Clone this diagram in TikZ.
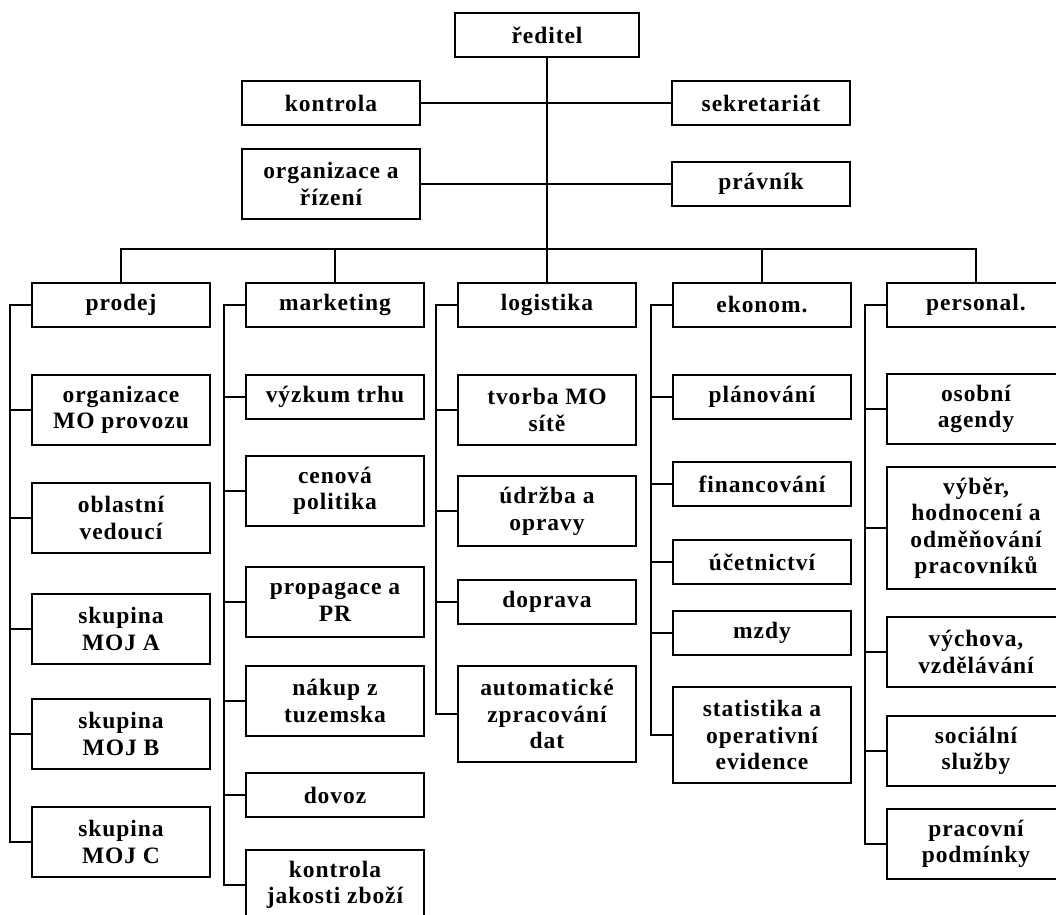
\documentclass[tikz,border=0pt]{standalone}
\usepackage{fontspec}
\setmainfont{Liberation Serif}[LetterSpace=4]
\usepackage{tikz}

\begin{document}
\begin{tikzpicture}[x=1pt,y=-1pt,line width=2pt,
  unit/.style={draw,rectangle,inner sep=0pt,minimum width=178pt,minimum height=44pt,
    align=center,font=\bfseries\fontsize{23.5}{26.5}\selectfont}]
\useasboundingbox (0,0) rectangle (1056,914);
% vedeni
\node[unit,minimum width=184pt] (red) at (547,35) {ředitel};
\node[unit] (kon) at (331,103) {kontrola};
\node[unit] (sek) at (761,103) {sekretariát};
\node[unit,minimum height=70pt] (org) at (331,184) {organizace a\\řízení};
\node[unit] (prav) at (761,184) {právník};
\draw (kon.east) -- (sek.west);
\draw (org.east) -- (prav.west);
% useky
\foreach \nm/\xx/\txt in {prodej/121/prodej, mark/335/marketing, log/547/logistika,
                           ekon/762/ekonom., pers/976/personal.} {
  \node[unit] (\nm) at (\xx,305) {\txt};
}
\coordinate (bus) at (547,249);
\draw (red.south) -- (log.north);
\draw (prodej.north) |- (bus) -| (pers.north);
\draw (mark.north) |- (bus);
\draw (ekon.north) |- (bus);
% prodej
\foreach \nm/\yy/\hh/\txt in {pro1/410/70/{organizace\\MO provozu},
    pro2/518/70/{oblastní\\vedoucí}, pro3/629/70/{skupina\\MOJ A},
    pro4/734/70/{skupina\\MOJ B}, pro5/842/70/{skupina\\MOJ C}} {
  \node[unit,minimum height=\hh pt] (\nm) at (121,\yy) {\txt};
  \draw (prodej.west) -- ++(-21,0) |- (\nm.west);
}
% marketing
\foreach \nm/\yy/\hh/\txt in {mar1/397/44/{výzkum trhu},
    mar2/491/70/{cenová\\politika}, mar3/602/70/{propagace a\\PR},
    mar4/701/70/{nákup z\\tuzemska}, mar5/795/44/{dovoz},
    mar6/885/70/{kontrola\\jakosti zboží}} {
  \node[unit,minimum height=\hh pt] (\nm) at (335,\yy) {\txt};
  \draw (mark.west) -- ++(-21,0) |- (\nm.west);
}
% logistika
\foreach \nm/\yy/\hh/\txt in {log1/410/70/{tvorba MO\\sítě},
    log2/511/70/{údržba a\\opravy}, log3/602/44/{doprava},
    log4/714/96/{automatické\\zpracování\\dat}} {
  \node[unit,minimum height=\hh pt] (\nm) at (547,\yy) {\txt};
  \draw (log.west) -- ++(-21,0) |- (\nm.west);
}
% ekonomika
\foreach \nm/\yy/\hh/\txt in {eko1/397/44/{plánování},
    eko2/484/44/{financování}, eko3/562/44/{účetnictví},
    eko4/633/44/{mzdy}, eko5/735/96/{statistika a\\operativní\\evidence}} {
  \node[unit,minimum height=\hh pt] (\nm) at (762,\yy) {\txt};
  \draw (ekon.west) -- ++(-21,0) |- (\nm.west);
}
% personalistika
\foreach \nm/\yy/\hh/\txt in {per1/409/70/{osobní\\agendy},
    per2/528/122/{výběr,\\hodnocení a\\odměňování\\pracovníků},
    per3/652/70/{výchova,\\vzdělávání}, per4/751/70/{sociální\\služby},
    per5/844/70/{pracovní\\podmínky}} {
  \node[unit,minimum height=\hh pt] (\nm) at (976,\yy) {\txt};
  \draw (pers.west) -- ++(-21,0) |- (\nm.west);
}
\end{tikzpicture}
\end{document}
